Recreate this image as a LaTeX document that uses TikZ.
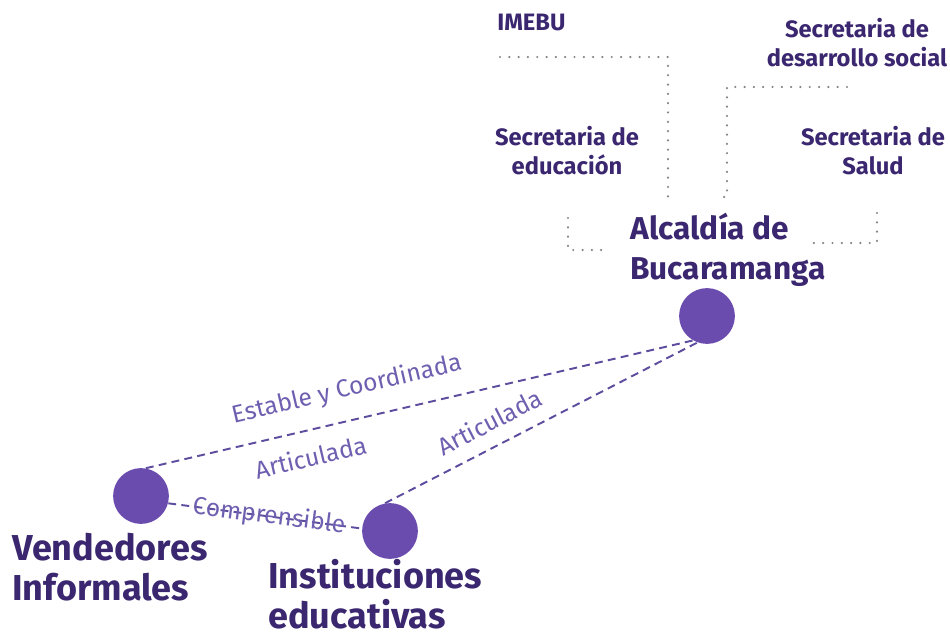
\documentclass[tikz,border=0pt]{standalone}
\usepackage{fontspec}
\setmainfont{Fira Sans}
\usepackage{tikz}
\usetikzlibrary{calc,positioning}
\definecolor{dotviolet}{HTML}{6A4BAE}
\definecolor{darkviolet}{HTML}{3A2770}
\definecolor{lineviolet}{HTML}{5E4C9E}
\definecolor{labviolet}{HTML}{6F5FB0}
\definecolor{dotgray}{HTML}{858585}
\tikzset{>=latex}
\tikzset{
  actor/.style={circle, fill=dotviolet, minimum size=56*0.567pt, inner sep=0pt},
  bigname/.style={font=\bfseries\fontsize{20.5}{22.7}\selectfont, text=darkviolet, align=left, inner sep=0pt},
  smallname/.style={font=\bfseries\fontsize{13.5}{16.5}\selectfont, text=darkviolet, align=center, inner sep=0pt},
  tie/.style={draw=lineviolet, line width=1.1pt, dash pattern=on 4.5pt off 3pt},
  tielabel/.style={font=\fontsize{14}{16}\selectfont, text=labviolet, sloped, inner sep=1pt},
  dotline/.style={draw=dotgray, line width=1.4pt, line cap=round, dash pattern=on 0pt off 5.3pt}
}

\begin{document}
\begin{tikzpicture}[x=0.02cm, y=-0.02cm]
\useasboundingbox (0,0) rectangle (950,634);

% actors
\node[actor] (alc) at (707,316) {};
\node[actor] (vend) at (141,496) {};
\node[actor] (inst) at (390,531) {};

\node[bigname, font=\bfseries\fontsize{18}{22.7}\selectfont, anchor=west] (alctxt) at (630,250) {Alcald\'ia de\\Bucaramanga};
\node[bigname, anchor=west] (vendtxt) at (12,567) {Vendedores\\Informales};
\node[bigname, anchor=west] (insttxt) at (268,594) {Instituciones\\educativas};

% dependencies
\node[smallname, anchor=west] (imebu) at (497,22) {IMEBU};
\node[smallname] (desa) at (857,43) {Secretaria de\\desarrollo social};
\node[smallname] (educ) at (567,151) {Secretaria de\\educaci\'on};
\node[smallname] (salud) at (873,151) {Secretaria de\\Salud};

\coordinate (imebuA) at (500,57);
\coordinate (imebuB) at (668,202);
\coordinate (desaA) at (847,87);
\coordinate (desaB) at (727,197);
\coordinate (desaC) at (715,197);
\coordinate (educA) at (568,218);
\coordinate (educB) at (608,250);
\coordinate (saludA) at (877,213);
\coordinate (saludB) at (812,243);

\path[dotline]
(imebuA) -| (imebuB)
(desaA) -| (desaB) -- (desaC)
(educA) |- (educB)
(saludA) |- (saludB)
;

% relations
\path[tie]
(vend.80)
edge node[tielabel, above=9pt, pos=.38] {Estable y Coordinada}
     node[tielabel, below=8pt, pos=.29] {Articulada} (alc.240)
(inst.100)
edge node[tielabel, above=7pt, pos=.37] {Articulada} (alc.250)
(vend.-15)
edge node[tielabel, pos=.52] {Comprensible} (inst.175)
;
\end{tikzpicture}
\end{document}
